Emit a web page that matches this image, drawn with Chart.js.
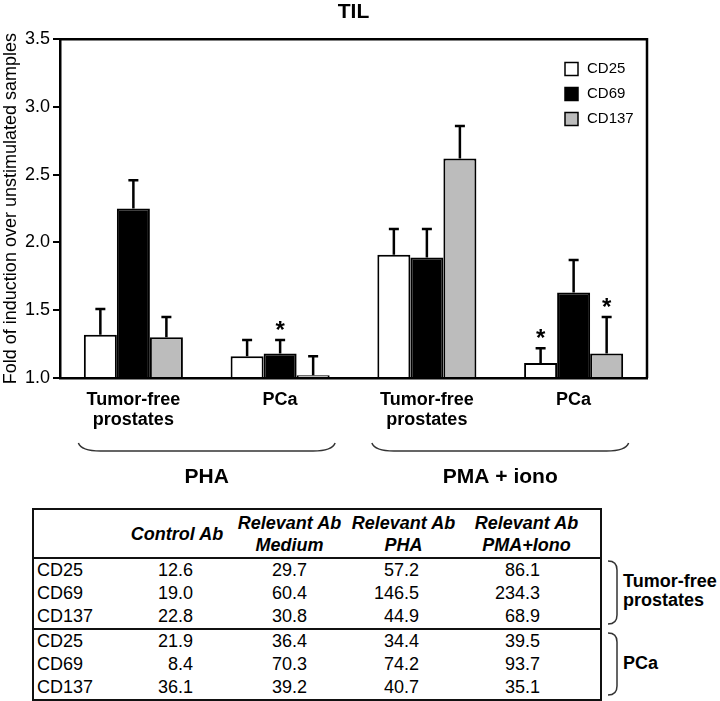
<!DOCTYPE html>
<html>
<head>
<meta charset="utf-8">
<title>TIL</title>
<script src="https://cdn.jsdelivr.net/npm/chart.js@4.4.1/dist/chart.umd.min.js"></script>
<style>
    body { margin: 0; background: #fff; font-family: "Liberation Sans", Arial, sans-serif; color: #000; }
    #page { position: relative; width: 720px; height: 701px; overflow: hidden; background: #fff; }
    #chart-box { position: absolute; left: 0; top: 0; width: 720px; height: 500px; }
    #til-table { position: absolute; left: 32px; top: 508px; width: 568px; border-collapse: collapse;
        table-layout: fixed; border: 2px solid #111; font-size: 18px; }
    #til-table th { font-weight: bold; font-style: italic; line-height: 22px; height: 47px; padding: 0;
        text-align: center; white-space: nowrap; vertical-align: middle; }
    #til-table thead tr { border-bottom: 2px solid #111; }
    #til-table td { height: 23px; line-height: 23px; padding: 0; text-align: right; white-space: nowrap; }
    #til-table td.marker { text-align: left; padding-left: 3px; }
    #til-table tr.first-pca { border-top: 2px solid #111; }
    #side-braces { position: absolute; left: 600px; top: 540px; }
    .side-label { position: absolute; left: 623px; font-weight: bold; font-size: 18px; line-height: 19px; }
</style>
</head>
<body>
<div id="page">
    <div id="chart-box"><canvas id="myChart"></canvas></div>
    <table id="til-table"></table>
    <svg id="side-braces" width="40" height="161"></svg>
    <div class="side-label" id="label-tf" style="top:572px;"></div>
    <div class="side-label" id="label-pca" style="top:654px;"></div>
</div>
<script>
// ---- chart data ----
const categories = [["Tumor-free", "prostates"], "PCa", ["Tumor-free", "prostates"], "PCa"];
const stimuli = ["PHA", "PMA + iono"];
const yTicks = [1.0, 1.5, 2.0, 2.5, 3.0, 3.5];

const cd25 = [1.32, 1.16, 1.91, 1.11];
const cd25Err = [0.19, 0.12, 0.19, 0.11];
const cd25Sig = [false, false, false, true];

const cd69 = [2.25, 1.18, 1.89, 1.63];
const cd69Err = [0.21, 0.10, 0.21, 0.24];
const cd69Sig = [false, true, false, false];

const cd137 = [1.30, 1.02, 2.62, 1.18];
const cd137Err = [0.15, 0.14, 0.24, 0.27];
const cd137Sig = [false, false, false, true];

// ---- table data ----
const markers = ["CD25", "CD69", "CD137"];
const sampleGroups = [["Tumor-free", "prostates"], ["PCa"]];
const tableHeaders = [["Control Ab"], ["Relevant Ab", "Medium"], ["Relevant Ab", "PHA"], ["Relevant Ab", "PMA+Iono"]];
const tumorFreeControl = [12.6, 19.0, 22.8];
const tumorFreeMedium = [29.7, 60.4, 30.8];
const tumorFreePHA = [57.2, 146.5, 44.9];
const tumorFreePMA = [86.1, 234.3, 68.9];
const pcaControl = [21.9, 8.4, 36.1];
const pcaMedium = [36.4, 70.3, 39.2];
const pcaPHA = [34.4, 74.2, 40.7];
const pcaPMA = [39.5, 93.7, 35.1];

const FONT = "'Liberation Sans', Arial, sans-serif";
Chart.defaults.font.family = FONT;
Chart.defaults.color = "#000";

/**
 * draws error bars, stars, the frame, legend and the group braces
 */
const extrasPlugin = {
    id: "extras",
    afterDatasetsDraw(chart) {
        let ctx = chart.ctx;
        let yScale = chart.scales.y;
        chart.data.datasets.forEach((ds, i) => {
            let meta = chart.getDatasetMeta(i);
            meta.data.forEach((bar, j) => {
                let top = yScale.getPixelForValue(ds.data[j] + ds.errors[j]);
                ctx.save();
                ctx.strokeStyle = "#000";
                ctx.lineWidth = 2.5;
                ctx.beginPath();
                ctx.moveTo(bar.x, bar.y);
                ctx.lineTo(bar.x, top);
                ctx.moveTo(bar.x - 5, top);
                ctx.lineTo(bar.x + 5, top);
                ctx.stroke();
                if (ds.stars[j]) {
                    ctx.fillStyle = "#000";
                    ctx.font = "bold 24px " + FONT;
                    ctx.textAlign = "center";
                    ctx.textBaseline = "alphabetic";
                    ctx.fillText("*", bar.x, top - 2);
                }
                ctx.restore();
            });
        });
    },
    afterDraw(chart) {
        let ctx = chart.ctx;
        let area = chart.chartArea;
        let xScale = chart.scales.x;
        ctx.save();
        // top and right side of the frame
        ctx.strokeStyle = "#000";
        ctx.lineWidth = 2.5;
        ctx.beginPath();
        ctx.moveTo(area.left, area.top);
        ctx.lineTo(area.right, area.top);
        ctx.lineTo(area.right, area.bottom);
        ctx.stroke();

        // legend
        ctx.font = "15px " + FONT;
        ctx.textBaseline = "middle";
        ctx.textAlign = "left";
        chart.data.datasets.forEach((ds, i) => {
            let cy = 69 + i * 25;
            ctx.fillStyle = ds.backgroundColor;
            ctx.fillRect(565, cy - 6.5, 13, 13);
            ctx.lineWidth = 1.5;
            ctx.strokeRect(565, cy - 6.5, 13, 13);
            ctx.fillStyle = "#000";
            ctx.fillText(ds.label, 587, cy);
        });

        // braces under the stimulus groups
        ctx.strokeStyle = "#333";
        ctx.lineWidth = 1.5;
        ctx.fillStyle = "#000";
        ctx.font = "bold 21px " + FONT;
        ctx.textAlign = "center";
        stimuli.forEach((name, g) => {
            let x1 = xScale.getPixelForValue(g * 2) - 55;
            let x2 = xScale.getPixelForValue(g * 2 + 1) + 55;
            let yTop = area.bottom + 65;
            let yBot = area.bottom + 73;
            ctx.beginPath();
            ctx.moveTo(x1, yTop);
            ctx.quadraticCurveTo(x1 + 3, yBot, x1 + 22, yBot);
            ctx.lineTo(x2 - 22, yBot);
            ctx.quadraticCurveTo(x2 - 3, yBot, x2, yTop);
            ctx.stroke();
            ctx.fillText(name, (x1 + x2) / 2, area.bottom + 99);
        });
        ctx.restore();
    }
};

function makeDataset(label, values, errors, stars, color) {
    return {
        label: label,
        data: values,
        errors: errors,
        stars: stars,
        backgroundColor: color,
        borderColor: "#000",
        borderWidth: 2,
        base: 1,
        barPercentage: 1.0,
        categoryPercentage: 0.675
    };
}

let config = {
    type: "bar",
    data: {
        labels: categories,
        datasets: [
            makeDataset("CD25", cd25, cd25Err, cd25Sig, "#ffffff"),
            makeDataset("CD69", cd69, cd69Err, cd69Sig, "#000000"),
            makeDataset("CD137", cd137, cd137Err, cd137Sig, "#bcbcbc")
        ]
    },
    options: {
        responsive: true,
        maintainAspectRatio: false,
        animation: false,
        layout: { padding: { left: 0, right: 73, top: 0, bottom: 0 } },
        plugins: {
            legend: { display: false },
            tooltip: { enabled: false },
            title: {
                display: true,
                text: "TIL",
                fullSize: false,
                font: { size: 21, weight: "bold" },
                padding: { top: 0, bottom: 14 },
                color: "#000"
            }
        },
        scales: {
            x: {
                grid: { display: false, drawTicks: false },
                border: { display: true, color: "#000", width: 2.5 },
                ticks: {
                    font: { size: 18, weight: "bold", lineHeight: 1.1 },
                    padding: 12,
                    maxRotation: 0,
                    autoSkip: false
                },
                afterFit: scale => { scale.height = 122; }
            },
            y: {
                min: 1,
                max: 3.5,
                afterBuildTicks: scale => { scale.ticks = yTicks.map(v => ({ value: v })); },
                grid: { drawOnChartArea: false, drawTicks: true, tickLength: 7, color: "#000", lineWidth: 2 },
                border: { display: true, color: "#000", width: 2.5 },
                ticks: {
                    font: { size: 18 },
                    padding: 3,
                    callback: v => Number(v).toFixed(1)
                },
                title: {
                    display: true,
                    text: "Fold of induction over unstimulated samples",
                    font: { size: 18 },
                    padding: { top: 0, bottom: 0 }
                },
                afterFit: scale => { scale.width = 60; }
            }
        }
    },
    plugins: [extrasPlugin]
};

let myChart = new Chart(document.getElementById("myChart"), config);

/**
 * builds the percentage table below the chart
 */
function buildTable() {
    let table = document.getElementById("til-table");
    let widths = [88, 112, 113, 115, 140];
    let rightPad = [0, 40, 39, 42, 60];
    let colgroup = document.createElement("colgroup");
    widths.forEach(w => {
        let col = document.createElement("col");
        col.style.width = w + "px";
        colgroup.appendChild(col);
    });
    table.appendChild(colgroup);

    let thead = document.createElement("thead");
    let hr = document.createElement("tr");
    hr.appendChild(document.createElement("th"));
    tableHeaders.forEach((lines, c) => {
        let th = document.createElement("th");
        th.innerHTML = lines.join("<br>");
        if (c === 3) th.style.paddingRight = "8px";
        hr.appendChild(th);
    });
    thead.appendChild(hr);
    table.appendChild(thead);

    let groups = [
        [tumorFreeControl, tumorFreeMedium, tumorFreePHA, tumorFreePMA],
        [pcaControl, pcaMedium, pcaPHA, pcaPMA]
    ];
    let tbody = document.createElement("tbody");
    groups.forEach((cols, g) => {
        markers.forEach((m, r) => {
            let tr = document.createElement("tr");
            if (g === 1 && r === 0) tr.className = "first-pca";
            let td = document.createElement("td");
            td.className = "marker";
            td.textContent = m;
            tr.appendChild(td);
            cols.forEach((vals, c) => {
                let cell = document.createElement("td");
                cell.textContent = vals[r].toFixed(1);
                cell.style.paddingRight = rightPad[c + 1] + "px";
                tr.appendChild(cell);
            });
            tbody.appendChild(tr);
        });
    });
    table.appendChild(tbody);

    document.getElementById("label-tf").innerHTML = sampleGroups[0].join("<br>");
    document.getElementById("label-pca").innerHTML = sampleGroups[1].join("<br>");
}

// right side braces of the table
function drawSideBraces() {
    let svg = document.getElementById("side-braces");
    let spans = [[21, 84], [93, 155]];
    let html = "";
    spans.forEach(s => {
        let d = `M 8 ${s[0]} Q 17 ${s[0]} 17 ${s[0] + 9} L 17 ${s[1] - 9} Q 17 ${s[1]} 8 ${s[1]}`;
        html += `<path d="${d}" fill="none" stroke="#333" stroke-width="1.5"/>`;
    });
    svg.innerHTML = html;
}

buildTable();
drawSideBraces();
</script>
</body>
</html>
